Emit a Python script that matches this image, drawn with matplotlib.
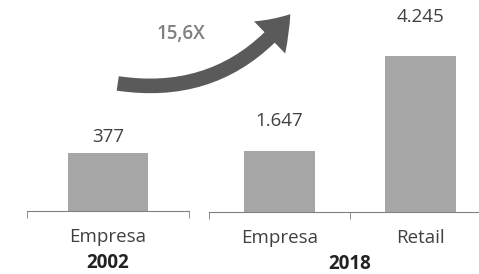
import matplotlib
matplotlib.use("Agg")
import matplotlib.pyplot as plt
from matplotlib.patches import FancyArrowPatch

# dados
cats_2002 = ["Empresa"]
vals_2002 = [377]
cats_2018 = ["Empresa", "Retail"]
vals_2018 = [1647, 4245]
rotulos_2002 = ["377"]
rotulos_2018 = ["1.647", "4.245"]
anos = ["2002", "2018"]
crescimento = "15,6X"

plt.rcParams["font.family"] = ["Open Sans", "DejaVu Sans"]
cor_barra = "#a6a6a6"
cor_eixo = "#808080"
cor_texto = "#404040"
fs = 13.5

fig = plt.figure(figsize=(4.79, 2.74), dpi=100)
ax1 = fig.add_axes([27/479, 63/274, 162/479, 211/274])
ax2 = fig.add_axes([209/479, 62/274, 282/479, 212/274])

def painel(ax, cats, vals, rotulos, largura, ytop, ano, folgas):
    x = list(range(len(cats)))
    ax.bar(x, vals, width=largura, color=cor_barra)
    ax.set_xlim(-0.5, len(cats) - 0.5)
    ax.set_ylim(0, ytop)
    for xi, v, r, f in zip(x, vals, rotulos, folgas):
        ax.annotate(r, (xi, v), xytext=(0, f), textcoords="offset pixels",
                    ha="center", va="center", fontsize=fs, color=cor_texto)
    for s in ["top", "right", "left"]:
        ax.spines[s].set_visible(False)
    ax.spines["bottom"].set_color(cor_eixo)
    ax.set_yticks([])
    ax.set_xticks(x)
    ax.set_xticklabels(cats, fontsize=fs, color=cor_texto)
    ax.tick_params(axis="x", which="major", length=0, pad=12)
    ax.set_xticks([i - 0.5 for i in range(len(cats) + 1)], minor=True)
    ax.tick_params(axis="x", which="minor", length=5, color=cor_eixo, direction="out")
    ax.annotate(ano, ((len(cats) - 1) / 2, 0), xycoords=("data", "axes fraction"),
                xytext=(0, -52), textcoords="offset pixels",
                ha="center", va="center", fontsize=fs, fontweight="bold", color="#222222")

painel(ax1, cats_2002, vals_2002, rotulos_2002, 0.49, 377 * 211 / 58, anos[0], [16])
painel(ax2, cats_2018, vals_2018, rotulos_2018, 0.5, 4245 * 212 / 156, anos[1], [30, 39])

seta = FancyArrowPatch((115/479, 1 - 83/274), (292/479, 1 - 12/274),
                       transform=fig.transFigure,
                       connectionstyle="arc3,rad=0.3",
                       arrowstyle="simple,head_width=2.3,head_length=1.6,tail_width=0.75",
                       mutation_scale=14, color="#5a5a5a", lw=0)
fig.patches.append(seta)
fig.text(181/479, 1 - 34/274, crescimento, ha="center", va="center",
         fontsize=fs, fontweight="semibold", color="#7f7f7f")

fig.savefig("out.png", dpi=100)
